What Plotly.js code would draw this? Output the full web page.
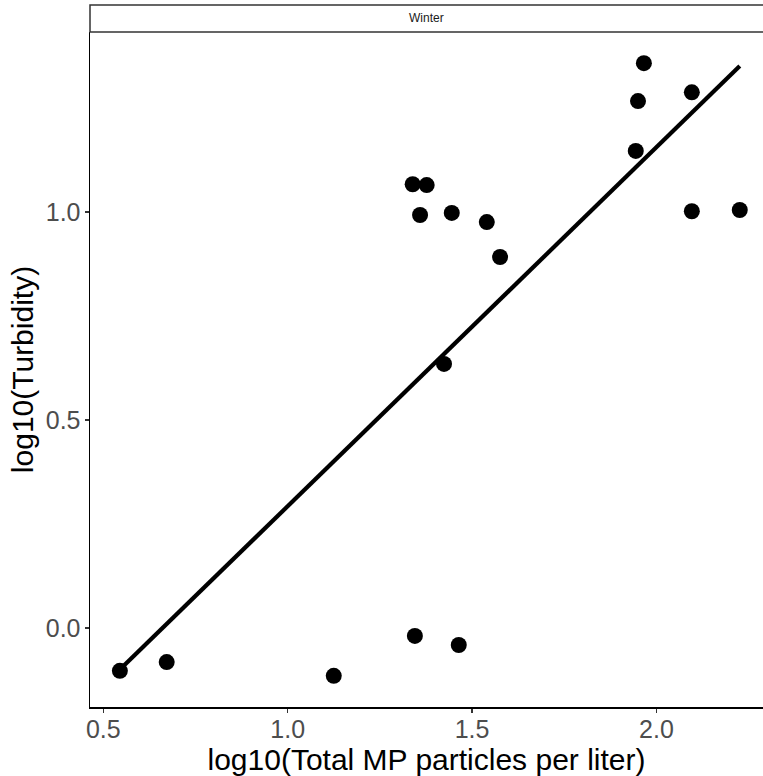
<!DOCTYPE html>
<html>
<head>
<meta charset="utf-8">
<script src="https://cdn.plot.ly/plotly-3.0.1.min.js"></script>
<style>html,body{margin:0;padding:0;background:#fff;}#chart{width:763px;height:776px;}</style>
</head>
<body>
<div id="chart"></div>
<script>
// Data
const mpLog = [0.545, 0.672, 1.125, 1.345, 1.464, 1.424, 1.339, 1.377, 1.359, 1.445, 1.540, 1.576, 1.944, 1.950, 1.966, 2.096, 2.096, 2.226];
const turbLog = [-0.103, -0.082, -0.115, -0.019, -0.041, 0.635, 1.067, 1.065, 0.993, 0.998, 0.976, 0.892, 1.147, 1.267, 1.358, 1.288, 1.002, 1.005];
// Fitted line end points
const fitX = [0.545, 2.226];
const fitY = [-0.100, 1.351];
const xTicks = [0.5, 1.0, 1.5, 2.0];
const xTickText = ["0.5", "1.0", "1.5", "2.0"];
const yTicks = [0.0, 0.5, 1.0];
const yTickText = ["0.0", "0.5", "1.0"];
const panelLabel = "Winter";

const traces = [
  {x: mpLog, y: turbLog, type: 'scatter', mode: 'markers',
   marker: {color: '#000000', size: 16}, cliponaxis: false, hoverinfo: 'skip'},
  {x: fitX, y: fitY, type: 'scatter', mode: 'lines',
   line: {color: '#000000', width: 4.2}, hoverinfo: 'skip'}
];

const layout = {
  width: 763, height: 776,
  margin: {l: 90, r: 0, t: 32, b: 69},
  paper_bgcolor: '#ffffff', plot_bgcolor: '#ffffff',
  showlegend: false,
  font: {family: 'Liberation Sans, Arial, sans-serif'},
  xaxis: {
    range: [0.464, 2.289], tickvals: xTicks, ticktext: xTickText,
    showgrid: false, zeroline: false, showline: true, linecolor: '#000000', linewidth: 1.5,
    ticks: 'outside', ticklen: 4, tickwidth: 1.2, tickcolor: '#333333',
    tickfont: {size: 25, color: '#4d4d4d'}, ticklabelstandoff: -5,
    title: {text: 'log10(Total MP particles per liter)', font: {size: 30, color: '#000000'}, standoff: 1}
  },
  yaxis: {
    range: [-0.190, 1.433], tickvals: yTicks, ticktext: yTickText,
    showgrid: false, zeroline: false, showline: true, linecolor: '#000000', linewidth: 1.5,
    ticks: 'outside', ticklen: 4, tickwidth: 1.2, tickcolor: '#333333',
    tickfont: {size: 25, color: '#4d4d4d'}, ticklabelstandoff: -1,
    title: {text: 'log10(Turbidity)', font: {size: 30, color: '#000000'}, standoff: 3}
  },
  shapes: [
    {type: 'rect', xref: 'paper', yref: 'paper', x0: 0, x1: 1.02, y0: 1.0, y1: 1.0 + 27/675,
     line: {color: '#333333', width: 1.5}, fillcolor: '#ffffff', layer: 'above'}
  ],
  annotations: [
    {text: panelLabel, xref: 'paper', yref: 'paper', x: 0.5, y: 1.0 + 13.5/675,
     xanchor: 'center', yanchor: 'middle', showarrow: false,
     font: {size: 12, color: '#1a1a1a'}}
  ]
};

Plotly.newPlot('chart', traces, layout, {displayModeBar: false, staticPlot: true});
</script>
</body>
</html>
